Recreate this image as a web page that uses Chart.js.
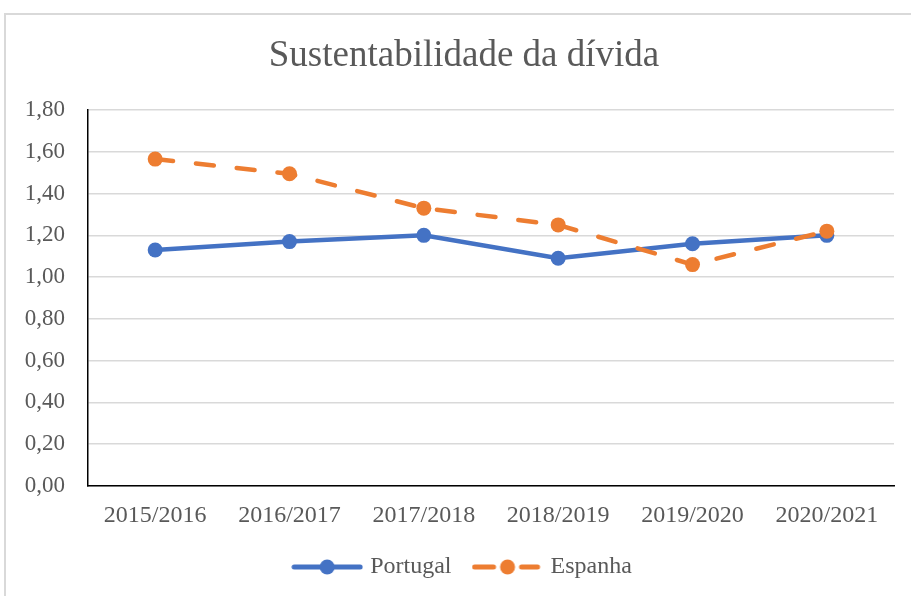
<!DOCTYPE html>
<html>
<head>
<meta charset="utf-8">
<script src="https://cdn.jsdelivr.net/npm/chart.js@4/dist/chart.umd.min.js"></script>
<style>
  html, body { margin: 0; padding: 0; background: #fff; overflow: hidden; }
  #frame { position: absolute; left: 4px; top: 13px; width: 940px; height: 620px; border: 2px solid #d9d9d9; }
  #wrap { position: absolute; left: 0; top: 0; width: 928px; height: 596px; }
</style>
</head>
<body>
<div id="frame"></div>
<div id="wrap"><canvas id="chart" width="928" height="596"></canvas></div>
<script>
// chart data
const labels   = ['2015/2016', '2016/2017', '2017/2018', '2018/2019', '2019/2020', '2020/2021'];
const portugal = [1.13, 1.17, 1.20, 1.09, 1.16, 1.20];
const espanha  = [1.565, 1.495, 1.33, 1.25, 1.06, 1.22];

const BLUE = '#4472C4';
const ORANGE = '#ED7D31';
const TEXT = '#595959';
const FONT = 'Liberation Serif';

// legend symbol: line with a dot in the middle
function legendSymbol(color, dashed) {
  const c = document.createElement('canvas');
  c.width = 72; c.height = 16;
  const g = c.getContext('2d');
  g.strokeStyle = color;
  g.fillStyle = color;
  g.lineWidth = 5;
  g.lineCap = 'round';
  g.beginPath();
  if (dashed) {
    g.moveTo(3, 8); g.lineTo(22, 8);
    g.moveTo(50, 8); g.lineTo(66, 8);
  } else {
    g.moveTo(3, 8); g.lineTo(69, 8);
  }
  g.stroke();
  g.beginPath();
  g.arc(36, 8, 7.5, 0, Math.PI * 2);
  g.fill();
  return c;
}

const ctx = document.getElementById('chart').getContext('2d');

new Chart(ctx, {
  type: 'line',
  data: {
    labels: labels,
    datasets: [{
      label: 'Portugal',
      data: portugal,
      borderColor: BLUE,
      backgroundColor: BLUE,
      borderWidth: 4.5,
      pointRadius: 7.5,
      pointBorderWidth: 0,
      pointBackgroundColor: BLUE,
      tension: 0,
      order: 1
    }, {
      label: 'Espanha',
      data: espanha,
      borderColor: ORANGE,
      backgroundColor: ORANGE,
      borderWidth: 4.5,
      borderDash: [18, 23],
      borderCapStyle: 'round',
      pointRadius: 7.5,
      pointBorderWidth: 0,
      pointBackgroundColor: ORANGE,
      tension: 0,
      order: 0
    }]
  },
  options: {
    responsive: false,
    animation: false,
    layout: { padding: { left: 0, right: 0, top: 0, bottom: 7 } },
    scales: {
      x: {
        offset: true,
        grid: { display: false, drawTicks: false },
        border: { color: '#000', width: 1.5 },
        ticks: { color: TEXT, font: { family: FONT, size: 24 }, padding: 15 },
        afterFit: function (s) { s.height = 44; }
      },
      y: {
        min: 0,
        max: 1.8,
        grid: { color: '#d9d9d9', lineWidth: 1.5, drawTicks: false },
        border: { color: '#000', width: 1.5 },
        ticks: {
          stepSize: 0.2,
          color: TEXT,
          font: { family: FONT, size: 23 },
          padding: 23,
          callback: v => v.toFixed(2).replace('.', ',')
        },
        afterFit: function (s) { s.width = 88; }
      },
      // empty right-hand space so the title and legend centre like the original
      yr: {
        type: 'linear',
        position: 'right',
        grid: { display: false, drawTicks: false },
        border: { display: false },
        ticks: { display: false },
        afterFit: function (s) { s.width = 34; }
      }
    },
    plugins: {
      title: {
        display: true,
        text: 'Sustentabilidade da dívida',
        color: TEXT,
        font: { family: FONT, size: 37, weight: 'normal' },
        padding: { top: 34, bottom: 31.6 }
      },
      legend: {
        position: 'bottom',
        labels: {
          color: TEXT,
          font: { family: FONT, size: 24 },
          usePointStyle: true,
          pointStyleWidth: 62,
          padding: 25,
          generateLabels: function () {
            return [
              { text: 'Portugal', pointStyle: legendSymbol(BLUE, false), fontColor: TEXT, datasetIndex: 0 },
              { text: 'Espanha', pointStyle: legendSymbol(ORANGE, true), fontColor: TEXT, datasetIndex: 1 }
            ];
          }
        }
      },
      tooltip: { enabled: false }
    }
  }
});
</script>
</body>
</html>
